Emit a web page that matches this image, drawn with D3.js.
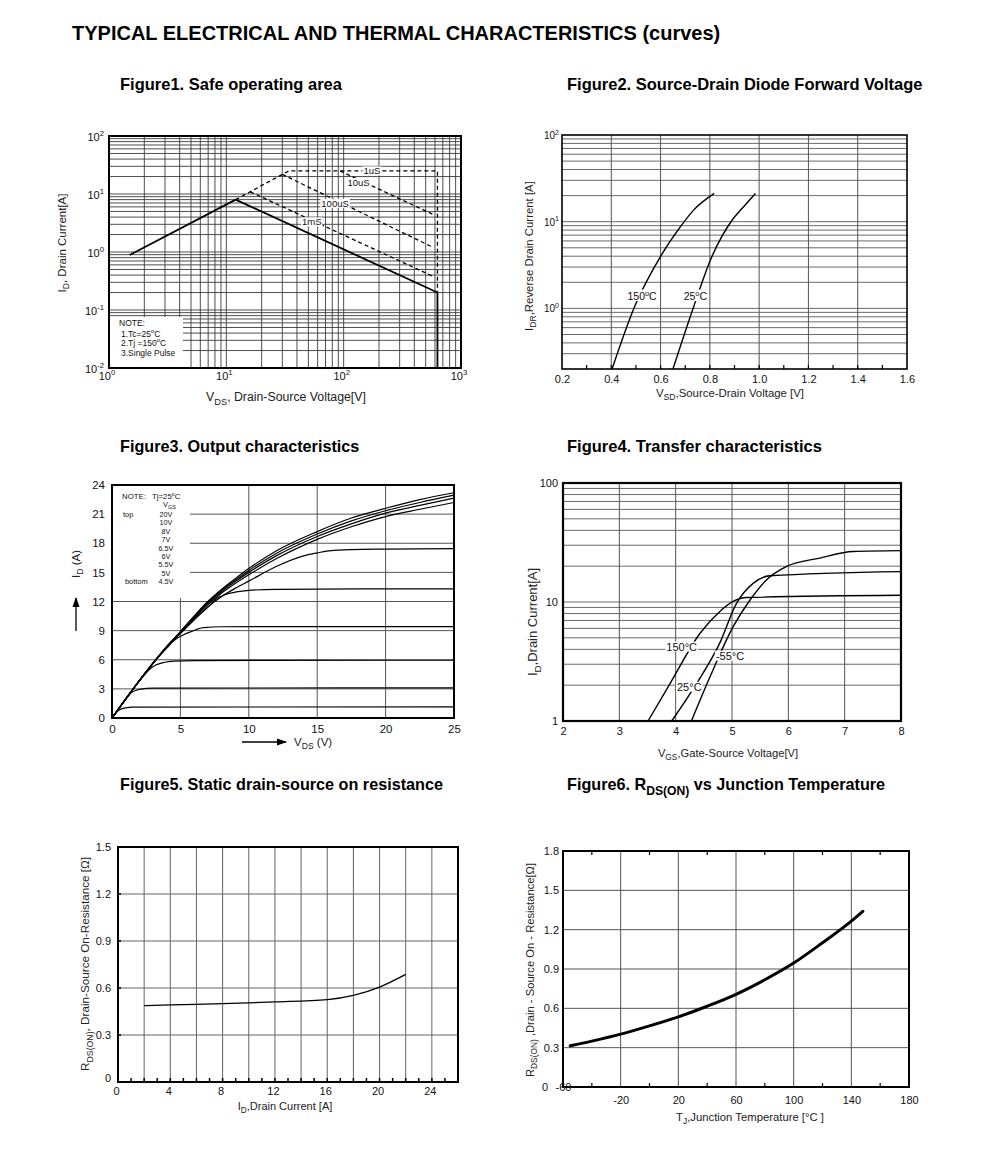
<!DOCTYPE html>
<html><head><meta charset="utf-8">
<script src="https://cdn.jsdelivr.net/npm/d3@7"></script>
<style>body{margin:0;background:#fff}svg{display:block;font-family:"Liberation Sans",Arial,Helvetica,sans-serif}</style>
</head><body><svg id="c" width="991" height="1172"></svg>
<script>
// ---------- DATA ----------
// Figure 1: safe operating area (VDS [V], ID [A])
const soaDC      = [[1.5,0.89],[12,8],[630,0.2],[630,0.01]];
const soa1us     = [[12,8],[34,25],[630,25],[630,0.18]];
const soa10us    = [[93,25],[570,4.5]];
const soa100us   = [[30,21.8],[584,1.19]];
const soa1ms     = [[16,10.9],[584,0.376]];
const soaLabels  = ["1uS","10uS","100uS","1mS"];
const soaLabelX  = [174,134,84.5,53.5];
const soaLabelY  = [25,15.8,6.9,3.3];
const fig1XExp   = [0,1,2,3];
const fig1YExp   = [-2,-1,0,1,2];
const fig1Note   = ["NOTE:","1.Tc=25|o|C","2.Tj =150|o|C","3.Single Pulse"];

// Figure 2: source-drain diode forward voltage (VSD [V], IDR [A])
const diode150 = [[0.403,0.2],[0.497,1.09],[0.599,3.94],[0.68,8.7],[0.734,13.6],[0.818,21.2]];
const diode25  = [[0.65,0.2],[0.734,1.04],[0.802,3.6],[0.89,10.4],[0.937,14.9],[0.985,21.2]];
const fig2XTicks = [0.2,0.4,0.6,0.8,1.0,1.2,1.4,1.6];
const fig2YExp   = [0,1,2];
const fig2Labels = ["150","25"];
const fig2LabelX = [0.525,0.741];
const fig2LabelY = [1.39,1.39];

// Figure 3: output characteristics (VDS [V], ID [A])
const outA = [[0,0],[1,1.95],[2,3.85],[3,5.65],[4,7.35],[5,8.9],[6,10.5],[7,12.0],[8,13.25],[9,14.35],[10,15.4],[12,17.2],[15,19.2],[17.5,20.6],[20,21.6],[22.5,22.5],[25,23.2]];
const outB = [[0,0],[1,1.95],[2,3.85],[3,5.65],[4,7.35],[5,8.88],[6,10.45],[7,11.9],[8,13.15],[9,14.2],[10,15.2],[12,16.95],[15,18.95],[17.5,20.3],[20,21.35],[22.5,22.2],[25,22.95]];
const outC = [[0,0],[1,1.95],[2,3.85],[3,5.65],[4,7.35],[5,8.85],[6,10.4],[7,11.8],[8,13.0],[9,14.05],[10,15.0],[12,16.7],[15,18.7],[17.5,20.0],[20,21.1],[22.5,21.9],[25,22.65]];
const outD = [[0,0],[1,1.95],[2,3.85],[3,5.65],[4,7.35],[5,8.8],[6,10.3],[7,11.65],[8,12.85],[9,13.85],[10,14.75],[12,16.4],[15,18.4],[17.5,19.7],[20,20.75],[22.5,21.5],[25,22.2]];
const outE = [[0,0],[1,1.95],[2,3.85],[3,5.65],[4,7.3],[5,8.75],[6,10.2],[7,11.45],[8,12.5],[9,13.35],[10,14.1],[12,15.6],[14,16.7],[15,17.0],[16,17.25],[17.5,17.35],[20,17.4],[25,17.45]];
const outF = [[0,0],[1,1.95],[2,3.85],[3,5.65],[4,7.3],[5,8.7],[6,10.1],[7,11.4],[7.66,12.3],[8.5,12.8],[9.36,13.05],[10,13.15],[12,13.25],[18,13.3],[25,13.3]];
const outG = [[0,0],[1,1.95],[2,3.85],[3,5.6],[4,7.2],[4.6,8.05],[5.2,8.55],[5.7,8.85],[6.7,9.3],[8,9.4],[25,9.42]];
const outH = [[0,0],[1,1.95],[2,3.8],[2.7,4.95],[3.2,5.45],[3.8,5.72],[4.5,5.85],[6,5.92],[25,5.95]];
const outI = [[0,0],[1,1.95],[1.4,2.6],[2,2.95],[3,3.08],[25,3.1]];
const outJ = [[0,0],[0.5,0.8],[1,1.05],[1.5,1.12],[25,1.15]];
const fig3XTicks = [0,5,10,15,20,25];
const fig3YTicks = [0,3,6,9,12,15,18,21,24];
const fig3VgsLabels = ["20V","10V","8V","7V","6.5V","6V","5.5V","5V","4.5V"];

// Figure 4: transfer characteristics (VGS [V], ID [A])
const tr150 = [[3.51,1],[3.9,2.06],[4.43,5.44],[4.78,8.29],[5.02,10.1],[5.26,10.9],[8,11.4]];
const tr25  = [[3.93,1],[4.37,2.06],[4.78,4.49],[5.08,9.73],[5.38,14.4],[5.67,16.6],[8,18.0]];
const trM55 = [[4.28,1],[4.61,2.35],[5.02,6.2],[5.32,10.4],[5.61,15.3],[5.97,19.9],[6.56,23.4],[7.15,26.6],[8,27.0]];
const fig4XTicks = [2,3,4,5,6,7,8];
const fig4YTicks = [1,10,100];
const fig4Labels = ["150°C","-55°C","25°C"];
const fig4LabelX = [4.107,4.965,4.242];
const fig4LabelY = [4.22,3.54,1.94];

// Figure 5: RDS(ON) vs ID
const rdsId = [[2,0.487],[4,0.492],[8,0.5],[12,0.511],[16,0.526],[18,0.553],[20,0.606],[22,0.687]];
const fig5XTicks = [0,4,8,12,16,20,24];
const fig5YTicks = [0,0.3,0.6,0.9,1.2,1.5];

// Figure 6: RDS(ON) vs TJ
const rdsTj = [[-55,0.314],[-40,0.35],[-20,0.403],[0,0.466],[20,0.535],[40,0.616],[60,0.707],[80,0.818],[100,0.945],[120,1.1],[140,1.265],[148,1.34]];
const fig6XTicks = [-60,-20,20,60,100,140,180];
const fig6YTicks = [0.3,0.6,0.9,1.2,1.5,1.8];

// ---------- HELPERS ----------
const svg = d3.select('#c');
const FONT = '"Liberation Sans",Arial,Helvetica,sans-serif';

function rich(t, parts, size){
  let shift = 0;
  parts.forEach(p=>{
    const s = t.append('tspan').text(p[0]);
    let target = 0;
    if(p[1]==='sub'){ s.attr('font-size',size*0.75); target = size*0.3; }
    if(p[1]==='sup'){ s.attr('font-size',size*0.7); target = -size*0.42; }
    if(target!==shift){ s.attr('dy',target-shift); shift = target; }
  });
  return t;
}
function pipeParts(str){
  const s = str.split('|');
  if(s.length===1) return [[str]];
  return [[s[0]],[s[1],'sup'],[s[2]]];
}
function txt(g,x,y,parts,size,anchor,opts){
  const t = g.append('text').attr('x',x).attr('y',y).attr('font-size',size)
    .attr('text-anchor',anchor||'middle').attr('fill',(opts&&opts.fill)||'#111');
  if(opts&&opts.bold) t.attr('font-weight','bold');
  if(opts&&opts.rotate) t.attr('transform',`rotate(-90,${x},${y})`);
  return rich(t, typeof parts==='string'?[[parts]]:parts, size);
}
function bgText(g,x,y,parts,size,anchor){
  const t = txt(g,x,y,parts,size,anchor);
  const bb = t.node().getBBox();
  g.insert('rect',()=>t.node()).attr('x',bb.x-1).attr('y',bb.y+1).attr('width',bb.width+2).attr('height',bb.height-2).attr('fill','#fff');
  return t;
}
function frame(g,p,w){
  g.append('rect').attr('x',p.l).attr('y',p.t).attr('width',p.r-p.l).attr('height',p.b-p.t)
   .attr('fill','none').attr('stroke','#000').attr('stroke-width',w);
}
function vgrid(g,xs,vals,p,color,w){
  g.append('g').selectAll('line').data(vals).join('line')
   .attr('x1',d=>xs(d)).attr('x2',d=>xs(d)).attr('y1',p.t).attr('y2',p.b)
   .attr('stroke',color).attr('stroke-width',w);
}
function hgrid(g,ys,vals,p,color,w){
  g.append('g').selectAll('line').data(vals).join('line')
   .attr('y1',d=>ys(d)).attr('y2',d=>ys(d)).attr('x1',p.l).attr('x2',p.r)
   .attr('stroke',color).attr('stroke-width',w);
}
function logVals(lo,hi){
  const out=[];
  for(let d=Math.floor(Math.log10(lo));d<=Math.ceil(Math.log10(hi));d++)
    for(let m=1;m<10;m++){const v=+(m*Math.pow(10,d)).toPrecision(6); if(v>lo*1.0001&&v<hi*0.9999) out.push(v);}
  return out;
}
function curve(g,data,xs,ys,w,dash,interp){
  const line = d3.line().x(d=>xs(d[0])).y(d=>ys(d[1])).curve(interp||d3.curveLinear);
  const p = g.append('path').attr('d',line(data)).attr('fill','none').attr('stroke','#000')
    .attr('stroke-width',w).attr('stroke-linejoin','round');
  if(dash) p.attr('stroke-dasharray',dash);
  return p;
}
function styleAxis(a,size){
  a.select('.domain').remove();
  a.selectAll('.tick line').remove();
  a.attr('font-family',FONT).attr('font-size',size);
  a.selectAll('text').attr('fill','#111');
}
const fmt1 = d=> d===0?'0':d.toFixed(1);

// ---------- TITLES ----------
txt(svg,72,40,'TYPICAL ELECTRICAL AND THERMAL CHARACTERISTICS (curves)',20,'start',{bold:true,fill:'#000'});
txt(svg,120,90,'Figure1. Safe operating area',16.5,'start',{bold:true,fill:'#000'});
txt(svg,567,90,'Figure2. Source-Drain Diode Forward Voltage',16.5,'start',{bold:true,fill:'#000'});
txt(svg,120,452,'Figure3. Output characteristics',16.2,'start',{bold:true,fill:'#000'});
txt(svg,567,452,'Figure4. Transfer characteristics',16.5,'start',{bold:true,fill:'#000'});
txt(svg,120,790,'Figure5. Static drain-source on resistance',16.2,'start',{bold:true,fill:'#000'});
txt(svg,567,790,[['Figure6. R'],['DS(ON)','sub'],[' vs Junction Temperature']],16.2,'start',{bold:true,fill:'#000'});

// ---------- FIGURE 1 ----------
(function(){
  const p={l:109,r:461,t:136,b:368};
  const g=svg.append('g');
  const x=d3.scaleLog().domain([1,1000]).range([p.l,p.r]);
  const y=d3.scaleLog().domain([0.01,100]).range([p.b,p.t]);
  vgrid(g,x,logVals(1,1000),p,'#3a3a3a',0.9);
  hgrid(g,y,logVals(0.01,100),p,'#3a3a3a',0.9);
  g.append('rect').attr('x',p.l+1).attr('y',317).attr('width',73).attr('height',p.b-317-1).attr('fill','#fff');
  const ny=[326,336.5,346,355.5], nx=[119,121,121,121];
  fig1Note.forEach((s,i)=>txt(g,nx[i],ny[i],pipeParts(s),8.5,'start'));
  curve(g,soaDC,x,y,1.8);
  curve(g,soa1us,x,y,1.3,'4,3');
  curve(g,soa10us,x,y,1.3,'4,3');
  curve(g,soa100us,x,y,1.3,'4,3');
  curve(g,soa1ms,x,y,1.3,'4,3');
  soaLabels.forEach((s,i)=>bgText(g,x(soaLabelX[i]),y(soaLabelY[i])+3.5,s,9.5,'middle'));
  frame(g,p,2);
  fig1XExp.forEach(e=>txt(g,x(Math.pow(10,e))-2,380,[['10'],[String(e),'sup']],11,'middle'));
  fig1YExp.forEach(e=>txt(g,104,y(Math.pow(10,e))+5,[['10'],[String(e),'sup']],11,'end'));
  txt(g,66,243,[['I'],['D','sub'],[', Drain Current[A]']],11.5,'middle',{rotate:true,fill:'#222'});
  txt(g,286,401,[['V'],['DS','sub'],[', Drain-Source Voltage[V]']],12.3,'middle',{fill:'#222'});
})();

// ---------- FIGURE 2 ----------
(function(){
  const p={l:562,r:907,t:135,b:369};
  const g=svg.append('g');
  const x=d3.scaleLinear().domain([0.2,1.6]).range([p.l,p.r]);
  const y=d3.scaleLog().domain([0.2,100]).range([p.b,p.t]);
  hgrid(g,y,logVals(0.2,100),p,'#6a6a6a',1);
  vgrid(g,x,[0.4,0.6,0.8,1.0,1.2,1.4],p,'#555',1);
  g.append('g').selectAll('line').data(d3.range(3,16).map(d=>d/10)).join('line')
    .attr('x1',d=>x(d)).attr('x2',d=>x(d)).attr('y1',p.b).attr('y2',p.b-4).attr('stroke','#000').attr('stroke-width',1.2);
  curve(g,diode150,x,y,1.4,null,d3.curveMonotoneX);
  curve(g,diode25,x,y,1.4,null,d3.curveMonotoneX);
  fig2Labels.forEach((s,i)=>bgText(g,x(fig2LabelX[i]),y(fig2LabelY[i])+4,[[s],['o','sup'],['C']],10.5,'middle'));
  frame(g,p,1.6);
  const ax=g.append('g').attr('transform',`translate(0,${p.b})`)
    .call(d3.axisBottom(x).tickValues(fig2XTicks).tickSize(0).tickPadding(6).tickFormat(d3.format('.1f')));
  styleAxis(ax,11);
  fig2YExp.forEach(e=>txt(g,559,y(Math.pow(10,e))+4,[['10'],[String(e),'sup']],10,'end'));
  txt(g,533,256,[['I'],['DR','sub'],[',Reverse Drain Current  [A]']],11.4,'middle',{rotate:true,fill:'#222'});
  txt(g,730,397,[['V'],['SD','sub'],[',Source-Drain Voltage  [V]']],11.4,'middle',{fill:'#222'});
})();

// ---------- FIGURE 3 ----------
(function(){
  const p={l:112,r:454,t:485,b:718};
  const g=svg.append('g');
  const x=d3.scaleLinear().domain([0,25]).range([p.l,p.r]);
  const y=d3.scaleLinear().domain([0,24]).range([p.b,p.t]);
  vgrid(g,x,[5,10,15,20],p,'#555',1);
  hgrid(g,y,[3,6,9,12,15,18,21],p,'#555',1);
  g.append('rect').attr('x',p.l+1).attr('y',p.t+1).attr('width',77).attr('height',112).attr('fill','#fff');
  txt(g,122,499,'NOTE:',7.8,'start');
  txt(g,152,499,[['Tj=25'],['o','sup'],['C']],7.8,'start');
  txt(g,163,507,[['V'],['GS','sub']],7.4,'start');
  txt(g,123,517,'top',7.4,'start');
  txt(g,125,583.5,'bottom',7.4,'start');
  const vy=[517,525.4,533.8,542.2,550.6,559,567.4,575.8,584.2];
  fig3VgsLabels.forEach((s,i)=>txt(g,166,vy[i],s,7.2,'middle'));
  [outA,outB,outC,outD,outE,outF,outG,outH,outI,outJ].forEach(d=>curve(g,d,x,y,1.2,null,d3.curveMonotoneX));
  frame(g,p,2);
  const ax=g.append('g').attr('transform',`translate(0,${p.b})`)
    .call(d3.axisBottom(x).tickValues(fig3XTicks).tickSize(0).tickPadding(7));
  styleAxis(ax,11.5);
  const ay=g.append('g').attr('transform',`translate(${p.l},0)`)
    .call(d3.axisLeft(y).tickValues(fig3YTicks).tickSize(0).tickPadding(7));
  styleAxis(ay,11.5);
  txt(g,80,564,[['I'],['D','sub'],[' (A)']],11.5,'middle',{rotate:true,fill:'#222'});
  const defs=svg.append('defs');
  defs.append('marker').attr('id','ah').attr('viewBox','0 0 10 10').attr('refX',9).attr('refY',5)
    .attr('markerWidth',8).attr('markerHeight',8).attr('orient','auto-start-reverse')
    .append('path').attr('d','M0,1.5 L10,5 L0,8.5 Z').attr('fill','#000');
  g.append('line').attr('x1',76).attr('y1',631).attr('x2',76).attr('y2',598).attr('stroke','#000').attr('stroke-width',1.3).attr('marker-end','url(#ah)');
  g.append('line').attr('x1',242).attr('y1',742).attr('x2',286).attr('y2',742).attr('stroke','#000').attr('stroke-width',1.3).attr('marker-end','url(#ah)');
  txt(g,294,746,[['V'],['DS','sub'],[' (V)']],11.5,'start',{fill:'#222'});
})();

// ---------- FIGURE 4 ----------
(function(){
  const p={l:563,r:901,t:483,b:721};
  const g=svg.append('g');
  const x=d3.scaleLinear().domain([2,8]).range([p.l,p.r]);
  const y=d3.scaleLog().domain([1,100]).range([p.b,p.t]);
  hgrid(g,y,logVals(1,100),p,'#6a6a6a',1);
  vgrid(g,x,[3,4,5,6,7],p,'#555',1);
  [tr150,tr25,trM55].forEach(d=>curve(g,d,x,y,1.4,null,d3.curveMonotoneX));
  fig4Labels.forEach((s,i)=>bgText(g,x(fig4LabelX[i]),y(fig4LabelY[i])+4,s,11,'middle'));
  frame(g,p,2.2);
  const ax=g.append('g').attr('transform',`translate(0,${p.b})`)
    .call(d3.axisBottom(x).tickValues(fig4XTicks).tickSize(0).tickPadding(6).tickFormat(d=>String(d)));
  styleAxis(ax,11);
  fig4YTicks.forEach(v=>txt(g,558,y(v)+4,String(v),11,'end'));
  txt(g,537,622,[['I'],['D','sub'],[',Drain Current[A]']],13,'middle',{rotate:true,fill:'#222'});
  txt(g,728,757,[['V'],['GS','sub'],[',Gate-Source Voltage[V]']],11.2,'middle',{fill:'#222'});
})();

// ---------- FIGURE 5 ----------
(function(){
  const p={l:118,r:458,t:847,b:1082};
  const g=svg.append('g');
  const x=d3.scaleLinear().domain([0,26]).range([p.l,p.r]);
  const y=d3.scaleLinear().domain([0,1.5]).range([p.b,p.t]);
  vgrid(g,x,d3.range(2,25,2),p,'#666',1);
  hgrid(g,y,[0.3,0.6,0.9,1.2],p,'#666',1);
  g.append('g').selectAll('line').data(d3.range(1,26)).join('line')
    .attr('x1',d=>x(d)).attr('x2',d=>x(d)).attr('y1',p.b).attr('y2',p.b-4).attr('stroke','#000').attr('stroke-width',1.5);
  g.append('g').selectAll('line').data([0.3,0.6,0.9,1.2]).join('line')
    .attr('x1',p.l).attr('x2',p.l+3).attr('y1',d=>y(d)).attr('y2',d=>y(d)).attr('stroke','#000').attr('stroke-width',1.5);
  curve(g,rdsId,x,y,1.3,null,d3.curveMonotoneX);
  frame(g,p,2);
  const ax=g.append('g').attr('transform',`translate(0,${p.b})`)
    .call(d3.axisBottom(x).tickValues(fig5XTicks).tickSize(0).tickPadding(5).tickFormat(d=>String(d)));
  styleAxis(ax,11);
  ax.selectAll('.tick text').attr('dx',-2);
  fig5YTicks.forEach(v=>txt(g,111,y(v)+(v===0?0:4),fmt1(v),11,'end'));
  txt(g,89,964,[['R'],['DS(ON)','sub'],[', Drain-Source On-Resistance [Ω]']],11.7,'middle',{rotate:true,fill:'#222'});
  txt(g,285,1110,[['I'],['D','sub'],[',Drain Current [A]']],11,'middle',{fill:'#222'});
})();

// ---------- FIGURE 6 ----------
(function(){
  const p={l:563,r:909,t:851,b:1087};
  const g=svg.append('g');
  const x=d3.scaleLinear().domain([-60,180]).range([p.l,p.r]);
  const y=d3.scaleLinear().domain([0,1.8]).range([p.b,p.t]);
  vgrid(g,x,[-20,20,60,100,140],p,'#555',1);
  hgrid(g,y,[0.3,0.6,0.9,1.2,1.5],p,'#555',1);
  const minor=[-40,0,40,80,120,160];
  g.append('g').selectAll('line').data(minor).join('line')
    .attr('x1',d=>x(d)).attr('x2',d=>x(d)).attr('y1',p.b).attr('y2',p.b-4).attr('stroke','#000').attr('stroke-width',1.2);
  g.append('g').selectAll('line').data(minor).join('line')
    .attr('x1',d=>x(d)).attr('x2',d=>x(d)).attr('y1',p.t).attr('y2',p.t+4).attr('stroke','#000').attr('stroke-width',1.2);
  curve(g,rdsTj,x,y,3,null,d3.curveMonotoneX).attr('stroke-linecap','round');
  frame(g,p,2);
  const ax=g.append('g').attr('transform',`translate(0,${p.b})`)
    .call(d3.axisBottom(x).tickValues(fig6XTicks).tickSize(0).tickPadding(9).tickFormat(d=>String(d)));
  styleAxis(ax,11);
  ax.selectAll('.tick text').filter(d=>d===-60).attr('dy','-0.45em').attr('dx',0);
  txt(g,548,p.b+4,'0',11,'end');
  fig6YTicks.forEach(v=>txt(g,559,y(v)+4,fmt1(v),11,'end'));
  txt(g,534,970,[['R'],['DS(ON)','sub'],[' ,Drain - Source On - Resistance[Ω]']],11.2,'middle',{rotate:true,fill:'#222'});
  txt(g,750,1121,[['T'],['J','sub'],[',Junction Temperature [°C ]']],11.3,'middle',{fill:'#222'});
})();
</script></body></html>
